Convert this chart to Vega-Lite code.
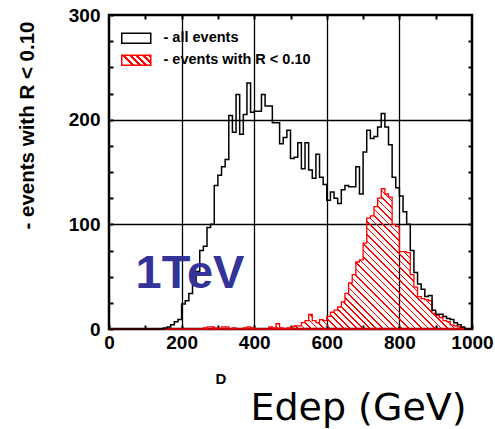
{
"$schema": "https://vega.github.io/schema/vega-lite/v6.json",
"width": 363, "height": 314,
"autosize": {"type": "none"},
"padding": {"left": 109, "top": 15, "right": 23, "bottom": 100},
"background": "white",
"config": {
  "view": {"stroke": "black", "strokeWidth": 2.5},
  "axis": {"labelFont": "Liberation Sans", "labelFontSize": 19, "labelFontWeight": "bold", "labelColor": "black", "tickColor": "black", "gridColor": "black", "titleColor": "black", "labelFlush": false}
},
"data": {"values": [
{"E":0,"all":0,"sel":0},{"E":10,"all":0,"sel":0},{"E":20,"all":0,"sel":0},{"E":30,"all":0,"sel":0},{"E":40,"all":0,"sel":0},
{"E":50,"all":0,"sel":0},{"E":60,"all":0,"sel":0},{"E":70,"all":0,"sel":0},{"E":80,"all":0,"sel":0},{"E":90,"all":0,"sel":0},
{"E":100,"all":0,"sel":0},{"E":110,"all":0,"sel":0},{"E":120,"all":0,"sel":0},{"E":130,"all":0,"sel":0},{"E":140,"all":0,"sel":0},
{"E":150,"all":1,"sel":0},{"E":160,"all":2,"sel":0},{"E":170,"all":4,"sel":0},{"E":180,"all":7,"sel":0},{"E":190,"all":9,"sel":0},
{"E":200,"all":24,"sel":0},{"E":210,"all":27,"sel":0},{"E":220,"all":34,"sel":0},{"E":230,"all":43,"sel":0},{"E":240,"all":55,"sel":0},
{"E":250,"all":75,"sel":0},{"E":260,"all":79,"sel":1},{"E":270,"all":97,"sel":2},{"E":280,"all":100,"sel":2},{"E":290,"all":137,"sel":1},
{"E":300,"all":147,"sel":0},{"E":310,"all":155,"sel":2},{"E":320,"all":162,"sel":2},{"E":330,"all":204,"sel":0},{"E":340,"all":188,"sel":1},
{"E":350,"all":224,"sel":0},{"E":360,"all":186,"sel":0},{"E":370,"all":205,"sel":1},{"E":380,"all":235,"sel":2},{"E":390,"all":207,"sel":1},
{"E":400,"all":208,"sel":0},{"E":410,"all":208,"sel":0},{"E":420,"all":224,"sel":0},{"E":430,"all":213,"sel":0},{"E":440,"all":213,"sel":2},
{"E":450,"all":197,"sel":1},{"E":460,"all":197,"sel":5},{"E":470,"all":177,"sel":1},{"E":480,"all":183,"sel":0},{"E":490,"all":190,"sel":1},
{"E":500,"all":163,"sel":2},{"E":510,"all":164,"sel":3},{"E":520,"all":178,"sel":3},{"E":530,"all":153,"sel":6},{"E":540,"all":178,"sel":8},
{"E":550,"all":152,"sel":14},{"E":560,"all":144,"sel":8},{"E":570,"all":167,"sel":6},{"E":580,"all":145,"sel":9},{"E":590,"all":138,"sel":8},
{"E":600,"all":123,"sel":12},{"E":610,"all":131,"sel":16},{"E":620,"all":125,"sel":18},{"E":630,"all":120,"sel":21},{"E":640,"all":133,"sel":26},
{"E":650,"all":137,"sel":34},{"E":660,"all":136,"sel":44},{"E":670,"all":136,"sel":52},{"E":680,"all":155,"sel":64},{"E":690,"all":129,"sel":66},
{"E":700,"all":169,"sel":82},{"E":710,"all":190,"sel":106},{"E":720,"all":182,"sel":108},{"E":730,"all":184,"sel":117},{"E":740,"all":193,"sel":125},
{"E":750,"all":206,"sel":134},{"E":760,"all":193,"sel":129},{"E":770,"all":176,"sel":126},{"E":780,"all":145,"sel":100},{"E":790,"all":135,"sel":98},
{"E":800,"all":127,"sel":74},{"E":810,"all":112,"sel":74},{"E":820,"all":100,"sel":73},{"E":830,"all":75,"sel":52},{"E":840,"all":54,"sel":40},
{"E":850,"all":43,"sel":31},{"E":860,"all":38,"sel":29},{"E":870,"all":31,"sel":28},{"E":880,"all":32,"sel":27},{"E":890,"all":18,"sel":15},
{"E":900,"all":14,"sel":13},{"E":910,"all":14,"sel":11},{"E":920,"all":12,"sel":8},{"E":930,"all":10,"sel":7},{"E":940,"all":9,"sel":4},
{"E":950,"all":6,"sel":3},{"E":960,"all":4,"sel":2},{"E":970,"all":2,"sel":1},{"E":980,"all":0,"sel":0},{"E":990,"all":0,"sel":0},
{"E":1000,"all":0,"sel":0}
]},
"layer": [
{
  "mark": {"type": "area", "interpolate": "step-after", "strokeWidth": 1.3,
    "fill": {"gradient": "linear", "x1": 0, "y1": 0.3865, "x2": 1, "y2": 0, "stops": [
{"offset":0,"color":"rgba(255,0,0,0)"},{"offset":0.01172,"color":"rgba(255,0,0,0)"},{"offset":0.01172,"color":"#f00"},{"offset":0.01563,"color":"#f00"},
{"offset":0.01563,"color":"rgba(255,0,0,0)"},{"offset":0.02734,"color":"rgba(255,0,0,0)"},{"offset":0.02734,"color":"#f00"},{"offset":0.03125,"color":"#f00"},
{"offset":0.03125,"color":"rgba(255,0,0,0)"},{"offset":0.04297,"color":"rgba(255,0,0,0)"},{"offset":0.04297,"color":"#f00"},{"offset":0.04688,"color":"#f00"},
{"offset":0.04688,"color":"rgba(255,0,0,0)"},{"offset":0.05859,"color":"rgba(255,0,0,0)"},{"offset":0.05859,"color":"#f00"},{"offset":0.0625,"color":"#f00"},
{"offset":0.0625,"color":"rgba(255,0,0,0)"},{"offset":0.07422,"color":"rgba(255,0,0,0)"},{"offset":0.07422,"color":"#f00"},{"offset":0.07813,"color":"#f00"},
{"offset":0.07813,"color":"rgba(255,0,0,0)"},{"offset":0.08984,"color":"rgba(255,0,0,0)"},{"offset":0.08984,"color":"#f00"},{"offset":0.09375,"color":"#f00"},
{"offset":0.09375,"color":"rgba(255,0,0,0)"},{"offset":0.10547,"color":"rgba(255,0,0,0)"},{"offset":0.10547,"color":"#f00"},{"offset":0.10938,"color":"#f00"},
{"offset":0.10938,"color":"rgba(255,0,0,0)"},{"offset":0.12109,"color":"rgba(255,0,0,0)"},{"offset":0.12109,"color":"#f00"},{"offset":0.125,"color":"#f00"},
{"offset":0.125,"color":"rgba(255,0,0,0)"},{"offset":0.13672,"color":"rgba(255,0,0,0)"},{"offset":0.13672,"color":"#f00"},{"offset":0.14063,"color":"#f00"},
{"offset":0.14063,"color":"rgba(255,0,0,0)"},{"offset":0.15234,"color":"rgba(255,0,0,0)"},{"offset":0.15234,"color":"#f00"},{"offset":0.15625,"color":"#f00"},
{"offset":0.15625,"color":"rgba(255,0,0,0)"},{"offset":0.16797,"color":"rgba(255,0,0,0)"},{"offset":0.16797,"color":"#f00"},{"offset":0.17188,"color":"#f00"},
{"offset":0.17188,"color":"rgba(255,0,0,0)"},{"offset":0.18359,"color":"rgba(255,0,0,0)"},{"offset":0.18359,"color":"#f00"},{"offset":0.1875,"color":"#f00"},
{"offset":0.1875,"color":"rgba(255,0,0,0)"},{"offset":0.19922,"color":"rgba(255,0,0,0)"},{"offset":0.19922,"color":"#f00"},{"offset":0.20313,"color":"#f00"},
{"offset":0.20313,"color":"rgba(255,0,0,0)"},{"offset":0.21484,"color":"rgba(255,0,0,0)"},{"offset":0.21484,"color":"#f00"},{"offset":0.21875,"color":"#f00"},
{"offset":0.21875,"color":"rgba(255,0,0,0)"},{"offset":0.23047,"color":"rgba(255,0,0,0)"},{"offset":0.23047,"color":"#f00"},{"offset":0.23438,"color":"#f00"},
{"offset":0.23438,"color":"rgba(255,0,0,0)"},{"offset":0.24609,"color":"rgba(255,0,0,0)"},{"offset":0.24609,"color":"#f00"},{"offset":0.25,"color":"#f00"},
{"offset":0.25,"color":"rgba(255,0,0,0)"},{"offset":0.26172,"color":"rgba(255,0,0,0)"},{"offset":0.26172,"color":"#f00"},{"offset":0.26563,"color":"#f00"},
{"offset":0.26563,"color":"rgba(255,0,0,0)"},{"offset":0.27734,"color":"rgba(255,0,0,0)"},{"offset":0.27734,"color":"#f00"},{"offset":0.28125,"color":"#f00"},
{"offset":0.28125,"color":"rgba(255,0,0,0)"},{"offset":0.29297,"color":"rgba(255,0,0,0)"},{"offset":0.29297,"color":"#f00"},{"offset":0.29688,"color":"#f00"},
{"offset":0.29688,"color":"rgba(255,0,0,0)"},{"offset":0.30859,"color":"rgba(255,0,0,0)"},{"offset":0.30859,"color":"#f00"},{"offset":0.3125,"color":"#f00"},
{"offset":0.3125,"color":"rgba(255,0,0,0)"},{"offset":0.32422,"color":"rgba(255,0,0,0)"},{"offset":0.32422,"color":"#f00"},{"offset":0.32813,"color":"#f00"},
{"offset":0.32813,"color":"rgba(255,0,0,0)"},{"offset":0.33984,"color":"rgba(255,0,0,0)"},{"offset":0.33984,"color":"#f00"},{"offset":0.34375,"color":"#f00"},
{"offset":0.34375,"color":"rgba(255,0,0,0)"},{"offset":0.35547,"color":"rgba(255,0,0,0)"},{"offset":0.35547,"color":"#f00"},{"offset":0.35938,"color":"#f00"},
{"offset":0.35938,"color":"rgba(255,0,0,0)"},{"offset":0.37109,"color":"rgba(255,0,0,0)"},{"offset":0.37109,"color":"#f00"},{"offset":0.375,"color":"#f00"},
{"offset":0.375,"color":"rgba(255,0,0,0)"},{"offset":0.38672,"color":"rgba(255,0,0,0)"},{"offset":0.38672,"color":"#f00"},{"offset":0.39063,"color":"#f00"},
{"offset":0.39063,"color":"rgba(255,0,0,0)"},{"offset":0.40234,"color":"rgba(255,0,0,0)"},{"offset":0.40234,"color":"#f00"},{"offset":0.40625,"color":"#f00"},
{"offset":0.40625,"color":"rgba(255,0,0,0)"},{"offset":0.41797,"color":"rgba(255,0,0,0)"},{"offset":0.41797,"color":"#f00"},{"offset":0.42188,"color":"#f00"},
{"offset":0.42188,"color":"rgba(255,0,0,0)"},{"offset":0.43359,"color":"rgba(255,0,0,0)"},{"offset":0.43359,"color":"#f00"},{"offset":0.4375,"color":"#f00"},
{"offset":0.4375,"color":"rgba(255,0,0,0)"},{"offset":0.44922,"color":"rgba(255,0,0,0)"},{"offset":0.44922,"color":"#f00"},{"offset":0.45313,"color":"#f00"},
{"offset":0.45313,"color":"rgba(255,0,0,0)"},{"offset":0.46484,"color":"rgba(255,0,0,0)"},{"offset":0.46484,"color":"#f00"},{"offset":0.46875,"color":"#f00"},
{"offset":0.46875,"color":"rgba(255,0,0,0)"},{"offset":0.48047,"color":"rgba(255,0,0,0)"},{"offset":0.48047,"color":"#f00"},{"offset":0.48438,"color":"#f00"},
{"offset":0.48438,"color":"rgba(255,0,0,0)"},{"offset":0.49609,"color":"rgba(255,0,0,0)"},{"offset":0.49609,"color":"#f00"},{"offset":0.5,"color":"#f00"},
{"offset":0.5,"color":"rgba(255,0,0,0)"},{"offset":0.51172,"color":"rgba(255,0,0,0)"},{"offset":0.51172,"color":"#f00"},{"offset":0.51563,"color":"#f00"},
{"offset":0.51563,"color":"rgba(255,0,0,0)"},{"offset":0.52734,"color":"rgba(255,0,0,0)"},{"offset":0.52734,"color":"#f00"},{"offset":0.53125,"color":"#f00"},
{"offset":0.53125,"color":"rgba(255,0,0,0)"},{"offset":0.54297,"color":"rgba(255,0,0,0)"},{"offset":0.54297,"color":"#f00"},{"offset":0.54688,"color":"#f00"},
{"offset":0.54688,"color":"rgba(255,0,0,0)"},{"offset":0.55859,"color":"rgba(255,0,0,0)"},{"offset":0.55859,"color":"#f00"},{"offset":0.5625,"color":"#f00"},
{"offset":0.5625,"color":"rgba(255,0,0,0)"},{"offset":0.57422,"color":"rgba(255,0,0,0)"},{"offset":0.57422,"color":"#f00"},{"offset":0.57813,"color":"#f00"},
{"offset":0.57813,"color":"rgba(255,0,0,0)"},{"offset":0.58984,"color":"rgba(255,0,0,0)"},{"offset":0.58984,"color":"#f00"},{"offset":0.59375,"color":"#f00"},
{"offset":0.59375,"color":"rgba(255,0,0,0)"},{"offset":0.60547,"color":"rgba(255,0,0,0)"},{"offset":0.60547,"color":"#f00"},{"offset":0.60938,"color":"#f00"},
{"offset":0.60938,"color":"rgba(255,0,0,0)"},{"offset":0.62109,"color":"rgba(255,0,0,0)"},{"offset":0.62109,"color":"#f00"},{"offset":0.625,"color":"#f00"},
{"offset":0.625,"color":"rgba(255,0,0,0)"},{"offset":0.63672,"color":"rgba(255,0,0,0)"},{"offset":0.63672,"color":"#f00"},{"offset":0.64063,"color":"#f00"},
{"offset":0.64063,"color":"rgba(255,0,0,0)"},{"offset":0.65234,"color":"rgba(255,0,0,0)"},{"offset":0.65234,"color":"#f00"},{"offset":0.65625,"color":"#f00"},
{"offset":0.65625,"color":"rgba(255,0,0,0)"},{"offset":0.66797,"color":"rgba(255,0,0,0)"},{"offset":0.66797,"color":"#f00"},{"offset":0.67188,"color":"#f00"},
{"offset":0.67188,"color":"rgba(255,0,0,0)"},{"offset":0.68359,"color":"rgba(255,0,0,0)"},{"offset":0.68359,"color":"#f00"},{"offset":0.6875,"color":"#f00"},
{"offset":0.6875,"color":"rgba(255,0,0,0)"},{"offset":0.69922,"color":"rgba(255,0,0,0)"},{"offset":0.69922,"color":"#f00"},{"offset":0.70313,"color":"#f00"},
{"offset":0.70313,"color":"rgba(255,0,0,0)"},{"offset":0.71484,"color":"rgba(255,0,0,0)"},{"offset":0.71484,"color":"#f00"},{"offset":0.71875,"color":"#f00"},
{"offset":0.71875,"color":"rgba(255,0,0,0)"},{"offset":0.73047,"color":"rgba(255,0,0,0)"},{"offset":0.73047,"color":"#f00"},{"offset":0.73438,"color":"#f00"},
{"offset":0.73438,"color":"rgba(255,0,0,0)"},{"offset":0.74609,"color":"rgba(255,0,0,0)"},{"offset":0.74609,"color":"#f00"},{"offset":0.75,"color":"#f00"},
{"offset":0.75,"color":"rgba(255,0,0,0)"},{"offset":0.76172,"color":"rgba(255,0,0,0)"},{"offset":0.76172,"color":"#f00"},{"offset":0.76563,"color":"#f00"},
{"offset":0.76563,"color":"rgba(255,0,0,0)"},{"offset":0.77734,"color":"rgba(255,0,0,0)"},{"offset":0.77734,"color":"#f00"},{"offset":0.78125,"color":"#f00"},
{"offset":0.78125,"color":"rgba(255,0,0,0)"},{"offset":0.79297,"color":"rgba(255,0,0,0)"},{"offset":0.79297,"color":"#f00"},{"offset":0.79688,"color":"#f00"},
{"offset":0.79688,"color":"rgba(255,0,0,0)"},{"offset":0.80859,"color":"rgba(255,0,0,0)"},{"offset":0.80859,"color":"#f00"},{"offset":0.8125,"color":"#f00"},
{"offset":0.8125,"color":"rgba(255,0,0,0)"},{"offset":0.82422,"color":"rgba(255,0,0,0)"},{"offset":0.82422,"color":"#f00"},{"offset":0.82813,"color":"#f00"},
{"offset":0.82813,"color":"rgba(255,0,0,0)"},{"offset":0.83984,"color":"rgba(255,0,0,0)"},{"offset":0.83984,"color":"#f00"},{"offset":0.84375,"color":"#f00"},
{"offset":0.84375,"color":"rgba(255,0,0,0)"},{"offset":0.85547,"color":"rgba(255,0,0,0)"},{"offset":0.85547,"color":"#f00"},{"offset":0.85938,"color":"#f00"},
{"offset":0.85938,"color":"rgba(255,0,0,0)"},{"offset":0.87109,"color":"rgba(255,0,0,0)"},{"offset":0.87109,"color":"#f00"},{"offset":0.875,"color":"#f00"},
{"offset":0.875,"color":"rgba(255,0,0,0)"},{"offset":0.88672,"color":"rgba(255,0,0,0)"},{"offset":0.88672,"color":"#f00"},{"offset":0.89063,"color":"#f00"},
{"offset":0.89063,"color":"rgba(255,0,0,0)"},{"offset":0.90234,"color":"rgba(255,0,0,0)"},{"offset":0.90234,"color":"#f00"},{"offset":0.90625,"color":"#f00"},
{"offset":0.90625,"color":"rgba(255,0,0,0)"},{"offset":0.91797,"color":"rgba(255,0,0,0)"},{"offset":0.91797,"color":"#f00"},{"offset":0.92188,"color":"#f00"},
{"offset":0.92188,"color":"rgba(255,0,0,0)"},{"offset":0.93359,"color":"rgba(255,0,0,0)"},{"offset":0.93359,"color":"#f00"},{"offset":0.9375,"color":"#f00"},
{"offset":0.9375,"color":"rgba(255,0,0,0)"},{"offset":0.94922,"color":"rgba(255,0,0,0)"},{"offset":0.94922,"color":"#f00"},{"offset":0.95313,"color":"#f00"},
{"offset":0.95313,"color":"rgba(255,0,0,0)"},{"offset":0.96484,"color":"rgba(255,0,0,0)"},{"offset":0.96484,"color":"#f00"},{"offset":0.96875,"color":"#f00"},
{"offset":0.96875,"color":"rgba(255,0,0,0)"},{"offset":0.98047,"color":"rgba(255,0,0,0)"},{"offset":0.98047,"color":"#f00"},{"offset":0.98438,"color":"#f00"},
{"offset":0.98438,"color":"rgba(255,0,0,0)"},{"offset":0.99609,"color":"rgba(255,0,0,0)"},{"offset":0.99609,"color":"#f00"},{"offset":1,"color":"#f00"}
    ]}},
  "encoding": {
    "x": {"field": "E", "type": "quantitative", "scale": {"domain": [0, 1000], "nice": false, "zero": false},
      "axis": {"orient": "top", "values": [100,200,300,400,500,600,700,800,900], "labels": false, "grid": false, "domain": false, "tickSize": -4, "tickWidth": 2, "title": null}},
    "y": {"field": "sel", "type": "quantitative", "scale": {"domain": [0, 300], "nice": false},
      "axis": {"orient": "right", "values": [25,50,75,100,125,150,175,200,225,250,275], "labels": false, "grid": false, "domain": false, "tickSize": -4, "tickWidth": 2, "title": null}},
    "stroke": {"datum": "- events with R < 0.10", "type": "nominal",
      "scale": {"domain": ["- all events", "- events with R < 0.10"], "range": ["black", "#ff0000"]},
      "legend": {"title": null, "orient": "none", "legendX": 20, "legendY": 16, "padding": 0,
        "symbolType": "M-2.9,-1H2.9V1H-2.9Z", "symbolSize": 100, "symbolStrokeWidth": 1.5, "symbolOpacity": 1,
        "labelFont": "Liberation Sans", "labelFontSize": 14.5, "labelFontWeight": "bold", "labelColor": "black", "labelOffset": 20, "rowPadding": 5,
        "encoding": {"symbols": {"fill": {"condition": {"test": "datum.value === '- all events'", "value": "transparent"},
          "value": {"gradient": "linear", "x1": 0, "y1": 0.345, "x2": 1, "y2": 0, "stops": [
            {"offset":0,"color":"rgba(255,0,0,0)"},{"offset":0.12,"color":"rgba(255,0,0,0)"},{"offset":0.12,"color":"#f00"},{"offset":0.2,"color":"#f00"},
            {"offset":0.2,"color":"rgba(255,0,0,0)"},{"offset":0.32,"color":"rgba(255,0,0,0)"},{"offset":0.32,"color":"#f00"},{"offset":0.4,"color":"#f00"},
            {"offset":0.4,"color":"rgba(255,0,0,0)"},{"offset":0.52,"color":"rgba(255,0,0,0)"},{"offset":0.52,"color":"#f00"},{"offset":0.6,"color":"#f00"},
            {"offset":0.6,"color":"rgba(255,0,0,0)"},{"offset":0.72,"color":"rgba(255,0,0,0)"},{"offset":0.72,"color":"#f00"},{"offset":0.8,"color":"#f00"},
            {"offset":0.8,"color":"rgba(255,0,0,0)"},{"offset":0.92,"color":"rgba(255,0,0,0)"},{"offset":0.92,"color":"#f00"},{"offset":1,"color":"#f00"}
          ]}}}}}
    }
  }
},
{
  "mark": {"type": "line", "interpolate": "step-after", "strokeWidth": 1.5},
  "encoding": {
    "x": {"field": "E", "type": "quantitative",
      "axis": {"orient": "bottom", "values": [0,100,200,300,400,500,600,700,800,900,1000], "format": "d",
        "labelExpr": "datum.value % 200 === 0 ? datum.label : ''", "labelPadding": 8, "labelFlush": false, "domain": false,
        "tickSize": -4, "tickWidth": 2, "grid": true, "gridWidth": 1.3,
        "gridOpacity": {"condition": {"test": "datum.value % 200 === 0 && datum.value > 0 && datum.value < 1000", "value": 1}, "value": 0},
        "title": "Edep (GeV)", "titleFont": "DejaVu Sans", "titleFontSize": 38, "titleFontWeight": "normal",
        "titleX": 249, "titleY": 90, "titleAlign": "center", "titleBaseline": "alphabetic"}},
    "y": {"field": "all", "type": "quantitative",
      "axis": {"orient": "left", "values": [0,25,50,75,100,125,150,175,200,225,250,275,300], "format": "d",
        "labelExpr": "datum.value % 100 === 0 ? datum.label : ''", "labelPadding": 13, "domain": false,
        "tickSize": -4, "tickWidth": 2, "grid": true, "gridWidth": 1.3,
        "gridOpacity": {"condition": {"test": "datum.value % 100 === 0 && datum.value > 0 && datum.value < 300", "value": 1}, "value": 0},
        "title": "- events with R < 0.10", "titleFont": "Liberation Sans", "titleFontSize": 20.5, "titleFontWeight": "bold",
        "titleAngle": -90, "titleX": -82, "titleY": 110, "titleAlign": "center", "titleBaseline": "middle"}},
    "stroke": {"datum": "- all events", "type": "nominal"}
  }
},
{
  "data": {"values": [{"label": "1TeV"}]},
  "mark": {"type": "text", "font": "Liberation Sans", "fontSize": 47, "fontWeight": "bold", "color": "#33339a", "align": "center", "baseline": "middle"},
  "encoding": {
    "x": {"datum": 223, "type": "quantitative", "axis": null},
    "y": {"datum": 53, "type": "quantitative", "axis": null},
    "text": {"field": "label"}
  }
},
{
  "data": {"values": [{"label": "D"}]},
  "mark": {"type": "text", "font": "Liberation Sans", "fontSize": 15, "fontWeight": "bold", "color": "black", "align": "center", "baseline": "middle"},
  "encoding": {
    "x": {"datum": 308, "type": "quantitative", "axis": null},
    "y": {"datum": -48, "type": "quantitative", "axis": null},
    "text": {"field": "label"}
  }
}
]
}
